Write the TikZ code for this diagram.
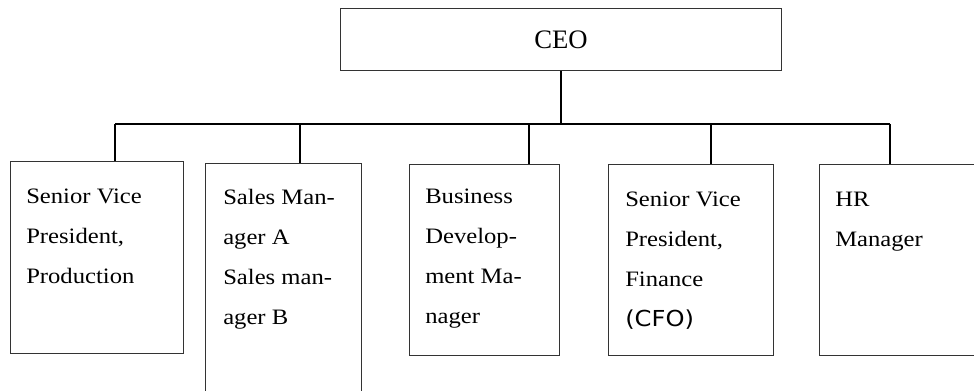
\documentclass[tikz,border=0pt]{standalone}
\usepackage{fontspec}
\setmainfont{Liberation Serif}
\newfontfamily\boxfont[FakeStretch=1.12]{Liberation Serif}
\newfontfamily\cfofont[FakeStretch=1.1]{DejaVu Sans}
\usepackage{tikz}

\tikzset{
  orgbox/.style={draw=black!80, line width=0.75pt, anchor=north west, inner sep=0pt},
  boxtext/.style={anchor=north west, inner sep=0pt, align=left, font=\boxfont\fontsize{16.5}{30}\selectfont},
  link/.style={line width=1.5pt},
}

\begin{document}
\begin{tikzpicture}[x=0.75pt,y=0.75pt,yscale=-1,xscale=1]
        \useasboundingbox (0,0) rectangle (974,391);

        % boxes
        \node [orgbox, minimum width=330.75pt, minimum height=46.5pt, font=\fontsize{20}{24}\selectfont] (ceo) at (340,8) {CEO};
        \node [orgbox, minimum width=129.75pt, minimum height=144pt] (svp) at (10,161) {};
        \node [orgbox, minimum width=117pt, minimum height=178pt] (sales) at (205,163) {};
        \node [orgbox, minimum width=112.5pt, minimum height=143.25pt] (bdm) at (409,164) {};
        \node [orgbox, minimum width=123.75pt, minimum height=143.25pt] (cfo) at (608,164) {};
        \node [orgbox, minimum width=136pt, minimum height=143.25pt] (hr) at (819,164) {};

        % texts
        \node [boxtext] (svp-txt) at (26,189) {Senior Vice\\President,\\Production};
        \node [boxtext] (sales-txt) at (223,189) {Sales Man-\\ager A\\Sales man-\\ager B};
        \node [boxtext] (bdm-txt) at (425,189) {Business\\Develop-\\ment Ma-\\nager};
        \node [boxtext] (cfo-txt) at (625,192) {Senior Vice\\President,\\Finance\\{\cfofont\fontsize{16.5}{30}\selectfont (CFO)}};
        \node [boxtext] (hr-txt) at (835,192) {HR\\Manager};

        % connectors
        \coordinate (j1) at (115,124);
        \coordinate (j2) at (300,124);
        \coordinate (j3) at (529,124);
        \coordinate (j4) at (711,124);
        \coordinate (j5) at (890,124);
        \draw [link] (ceo.south) -- (ceo.south |- j1);
        \draw [link] (j1) -- (j5);
        \draw [link] (j1) -- (j1 |- svp.north);
        \draw [link] (j2) -- (j2 |- sales.north);
        \draw [link] (j3) -- (j3 |- bdm.north);
        \draw [link] (j4) -- (j4 |- cfo.north);
        \draw [link] (j5) -- (j5 |- hr.north);
    \end{tikzpicture}
\end{document}
